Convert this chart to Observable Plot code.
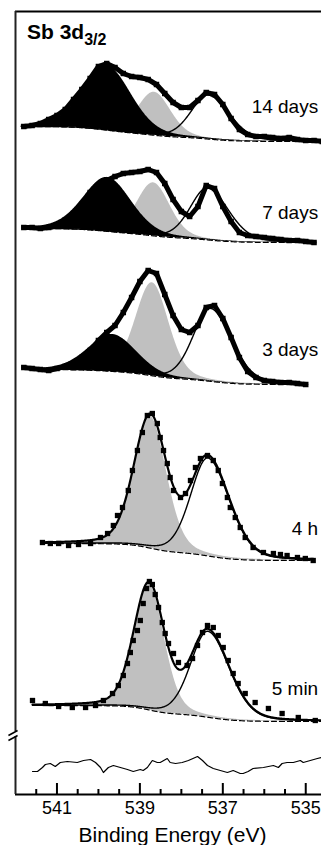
<!DOCTYPE html>
<html>
<head>
<meta charset="utf-8">
<script src="https://cdn.jsdelivr.net/npm/d3@7"></script>
<script src="https://cdn.jsdelivr.net/npm/@observablehq/plot@0.6"></script>
<style>
html, body { margin: 0; padding: 0; background: #fff; }
#wrap { position: relative; width: 321px; height: 845px; overflow: hidden; }
#wrap svg { display: block; }
#title { position: absolute; left: 27px; top: 21px; font: bold 21px/21px "Liberation Sans", Arial, sans-serif; color: #000; white-space: nowrap; }
#title sub { font-size: 16px; vertical-align: baseline; position: relative; top: 6px; }
</style>
</head>
<body>
<div id="wrap"><div id="title">Sb 3d<sub>3/2</sub></div></div>
<script>
// ---- Data ----
// Binding energies (eV) at which the dense (aged) spectra were read
const energyGrid = [541.8, 541.6, 541.4, 541.2, 541.0, 540.8, 540.6, 540.4, 540.2, 540.0,
  539.8, 539.6, 539.4, 539.2, 539.0, 538.8, 538.6, 538.4, 538.2, 538.0,
  537.8, 537.6, 537.4, 537.2, 537.0, 536.8, 536.6, 536.4, 536.2, 536.0,
  535.8, 535.6, 535.4, 535.2, 535.0, 534.8, 534.6];

const spectrumLabels = ["14 days", "7 days", "3 days", "4 h", "5 min"];

// Measured intensities (stacked, arbitrary units)
const counts14d = [668, 669, 671, 675, 679, 685, 695, 705, 716, 728, 731, 727, 721, 718, 717, 715, 710, 701, 692, 687,
  687, 694, 702, 700, 690, 676, 665, 660, 658, 658, 657, 656, 657, 655, 654, 654, 653];
const counts7d = [567, 567, 566, 567, 569, 574, 581, 590, 602, 609, 614, 618, 621, 622, 623, 625, 622, 611, 595, 583,
  578, 588, 609, 606, 588, 573, 562, 559, 558, 557, 556, 555, 554, 554, 553, 552, null];
const counts3d = [427, 426, 425, 424, 426, 428, 431, 437, 444, 454, 462, 469, 482, 497, 513, 524, 521, 500, 479, 465,
  462, 469, 487, 489, 476, 457, 437, 423, 417, 414, 413, 412, 412, 411, 410, null, null];

// The 4 h and 5 min spectra: marker positions (eV, intensity)
const energy4h = [541.35, 541.16, 540.96, 540.72, 540.48, 540.19, 539.95, 539.78, 539.64, 539.54, 539.42, 539.28,
  539.18, 539.06, 538.94, 538.82, 538.70, 538.58, 538.51, 538.43, 538.34, 538.27, 538.19, 538.02, 537.90, 537.78,
  537.66, 537.54, 537.37, 537.23, 537.11, 537.01, 536.89, 536.82, 536.70, 536.58, 536.46, 536.27, 536.02, 535.78,
  535.61, 535.45, 535.20, 535.01, 534.82];
const counts4h = [252, 251, 251, 249, 250, 251, 257, 261, 269, 279, 287, 304,
  324, 344, 362, 379, 381, 371, 357, 344, 331, 317, 304, 297, 301, 314,
  327, 336, 339, 334, 324, 311, 297, 287, 277, 267, 257, 247, 242, 241,
  240, 239, 237, 236, 234];
const energy5min = [541.59, 541.28, 540.96, 540.63, 540.31, 540.07, 539.88, 539.66, 539.52, 539.40, 539.30, 539.23,
  539.16, 539.06, 538.99, 538.92, 538.84, 538.77, 538.70, 538.63, 538.55, 538.46, 538.39, 538.31, 538.19, 538.07,
  537.86, 537.73, 537.61, 537.49, 537.37, 537.23, 537.11, 536.99, 536.87, 536.75, 536.63, 536.46, 536.22, 535.90,
  535.57, 535.18, 534.77];
const counts5min = [94, 91, 88, 87, 87, 89, 94, 101, 109, 119, 131, 142,
  154, 164, 174, 191, 206, 213, 210, 200, 187, 172, 161, 151, 141, 132,
  129, 136, 149, 162, 169, 167, 159, 147, 134, 121, 111, 101, 92, 86,
  81, 77, 74];

// Fitted components (centre eV, height a.u., FWHM eV) per spectrum
const blackCenter = [539.78, 539.78, 539.66, 539.7, 539.7];
const blackHeight = [64, 54, 37, 0, 0];
const blackFwhm = [1.36, 1.36, 1.36, 1.36, 1.36];
const grayCenter = [538.65, 538.67, 538.70, 538.75, 538.78];
const grayHeight = [43, 53, 93, 132, 126];
const grayFwhm = [0.94, 0.94, 0.94, 0.93, 0.87];
const whiteCenter = [537.35, 537.37, 537.30, 537.36, 537.36];
const whiteHeight = [44, 52, 73, 98, 86];
const whiteFwhmHighBE = [0.98, 0.98, 0.98, 0.98, 0.98];
const whiteFwhmLowBE = [1.2, 1.2, 1.2, 1.22, 1.22];
const lorentzFraction = 0.22;
// Background levels at the high- and low-BE ends, and spectrum spans
const bgHigh = [668, 566, 425, 251, 89];
const bgLow = [653, 552, 410, 234, 73];
const spanHigh = [541.86, 541.8, 541.82, 541.35, 541.59];
const spanLow = [534.6, 534.8, 535.0, 534.82, 534.62];
const labelLevel = [688, 582, 445, 266, 106];

// Residual trace at the bottom
const residualEnergy = [541.59, 541.47, 541.35, 541.28, 541.16, 541.04, 540.92, 540.75, 540.51, 540.36, 540.19, 540.07,
  539.95, 539.88, 539.76, 539.64, 539.47, 539.30, 539.16, 538.99, 538.92, 538.82, 538.70, 538.58, 538.51, 538.34,
  538.27, 538.14, 537.98, 537.83, 537.61, 537.49, 537.37, 537.23, 537.06, 536.89, 536.75, 536.58, 536.51, 536.39,
  536.27, 536.02, 535.78, 535.66, 535.57, 535.45, 535.30, 535.13, 535.06, 534.89, 534.72, 534.63];
const residualValue = [23, 23, 27, 30, 31, 28, 32, 33, 32, 34, 35, 32, 27, 22, 27, 29, 27, 25, 23, 25, 24, 27, 34, 32,
  32, 36, 32, 31, 32, 34, 38, 34, 29, 26, 24, 22, 24, 21, 21, 23, 26, 27, 29, 27, 31, 32, 32, 34, 32, 34, 36, 37];

const majorTicks = [541, 539, 537, 535];
const minorTicks = [541.5, 540.5, 540, 539.5, 538.5, 538, 537.5, 536.5, 536, 535.5];
const axisBreak = 60;

// ---- Build tables ----
function glPeak(E, c, h, w) {
  const t = (E - c) / w;
  return h * ((1 - lorentzFraction) * Math.exp(-4 * Math.LN2 * t * t) + lorentzFraction / (1 + 4 * t * t));
}

const fit = [];
spectrumLabels.forEach((name, s) => {
  const step = 0.01;
  const Es = d3.range(spanHigh[s], spanLow[s] - 1e-9, -step);
  const rows = Es.map(E => ({
    E, spectrum: name,
    k: glPeak(E, blackCenter[s], blackHeight[s], blackFwhm[s]),
    g: glPeak(E, grayCenter[s], grayHeight[s], grayFwhm[s]),
    w: glPeak(E, whiteCenter[s], whiteHeight[s], E > whiteCenter[s] ? whiteFwhmHighBE[s] : whiteFwhmLowBE[s])
  }));
  const n = rows.length;
  const cum = new Array(n).fill(0);
  for (let i = n - 2; i >= 0; i--) {
    const a = rows[i], b = rows[i + 1];
    cum[i] = cum[i + 1] + 0.5 * ((a.k + a.g + a.w) + (b.k + b.g + b.w)) * step;
  }
  rows.forEach((r, i) => {
    r.base = bgLow[s] + (bgHigh[s] - bgLow[s]) * cum[i] / cum[0];
    r.hasBlack = blackHeight[s] > 0;
    r.showFit = s >= 3;
    fit.push(r);
  });
});

const points = [];
[counts14d, counts7d, counts3d].forEach((arr, s) => {
  arr.forEach((v, i) => {
    if (v != null) points.push({E: energyGrid[i], v, spectrum: spectrumLabels[s], ragged: true});
  });
});
counts4h.forEach((v, i) => points.push({E: energy4h[i], v, spectrum: "4 h", ragged: false}));
counts5min.forEach((v, i) => points.push({E: energy5min[i], v, spectrum: "5 min", ragged: false}));

const residual = residualEnergy.map((E, i) => ({E, v: residualValue[i]}));
const labels = spectrumLabels.map((t, i) => ({t, y: labelLevel[i], x: 534.7}));
const leftAxis = [{y1: 0, y2: axisBreak - 2}, {y1: axisBreak + 3, y2: 783}];
const slashes = [
  {x1: 542.17, y1: axisBreak - 6, x2: 541.95, y2: axisBreak - 1},
  {x1: 542.17, y1: axisBreak - 1, x2: 541.95, y2: axisBreak + 4}
];

const chart = Plot.plot({
  width: 321,
  height: 845,
  marginLeft: 15,
  marginRight: 0,
  marginTop: 11,
  marginBottom: 51,
  x: {domain: [542, 534.62]},
  y: {domain: [0, 783], axis: null},
  style: {fontFamily: "'Liberation Sans', Arial, sans-serif", color: "black", background: "white", overflow: "visible"},
  marks: [
    Plot.areaY(fit, {x: "E", y1: "base", y2: d => d.base + d.g, z: "spectrum", fill: "#c0c0c0"}),
    Plot.areaY(fit.filter(d => d.hasBlack), {x: "E", y1: "base", y2: d => d.base + d.k, z: "spectrum", fill: "black"}),
    Plot.line(fit, {x: "E", y: "base", z: "spectrum", stroke: "black", strokeWidth: 1.2, strokeDasharray: "5,3"}),
    Plot.line(fit, {x: "E", y: d => d.base + d.w, z: "spectrum", stroke: "black", strokeWidth: 1.4}),
    Plot.line(fit.filter(d => d.showFit), {x: "E", y: d => d.base + d.k + d.g + d.w, z: "spectrum", stroke: "black", strokeWidth: 2.2}),
    Plot.line(points.filter(d => d.ragged), {x: "E", y: "v", z: "spectrum", stroke: "black", strokeWidth: 5}),
    Plot.dot(points, {x: "E", y: "v", symbol: "square", r: d => d.ragged ? 3.4 : 3.2, fill: "black", stroke: null}),
    Plot.line(residual, {x: "E", y: "v", stroke: "black", strokeWidth: 1.2}),
    Plot.text(labels, {x: "x", y: "y", text: "t", textAnchor: "end", fontSize: 19}),
    // frame and axes
    Plot.ruleY([783], {stroke: "black", strokeWidth: 2}),
    Plot.ruleY([0], {stroke: "black", strokeWidth: 2}),
    Plot.ruleX(leftAxis, {x: () => 542, y1: "y1", y2: "y2", stroke: "#222", strokeWidth: 2}),
    Plot.link(slashes, {x1: "x1", y1: "y1", x2: "x2", y2: "y2", stroke: "black", strokeWidth: 1.5}),
    Plot.ruleX(majorTicks, {y1: 0, y2: 11, stroke: "black", strokeWidth: 2}),
    Plot.ruleX(minorTicks, {y1: 0, y2: 5, stroke: "black", strokeWidth: 2}),
    Plot.axisX(majorTicks, {tickSize: 0, tickPadding: 7, fontSize: 18, tickFormat: d => String(d), label: null}),
    Plot.text(["Binding Energy (eV)"], {frameAnchor: "bottom", dy: 47, dx: 4, fontSize: 21})
  ]
});
document.getElementById("wrap").appendChild(chart);
</script>
</body>
</html>
